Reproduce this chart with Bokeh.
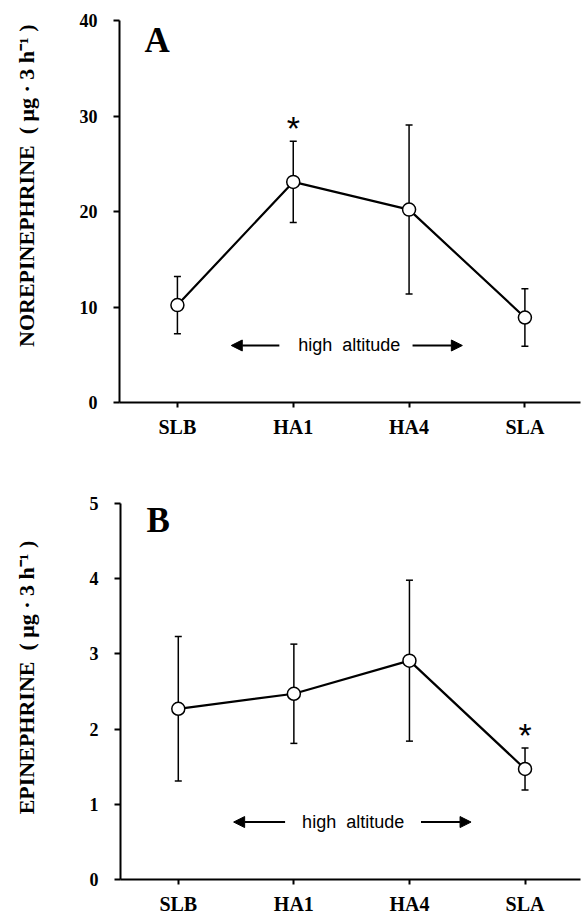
from bokeh.plotting import figure
from bokeh.models import (ColumnDataSource, Whisker, TeeHead, Label, Arrow,
                          NormalHead, Range1d, FixedTicker)
from bokeh.layouts import column, row
from bokeh.embed import file_html
from bokeh.resources import INLINE
from bokeh.core.properties import value
import math

# ---- data -------------------------------------------------------------
conditions = ["SLB", "HA1", "HA4", "SLA"]
ne_mean = [10.2, 23.1, 20.2, 8.9]        # norepinephrine, ug/3h
ne_sd = [3.0, 4.25, 8.85, 3.0]
epi_mean = [2.27, 2.47, 2.91, 1.47]      # epinephrine, ug/3h
epi_sd = [0.96, 0.66, 1.07, 0.28]
ne_ticks = [0, 10, 20, 30, 40]
epi_ticks = [0, 1, 2, 3, 4, 5]
ne_sig = ["HA1"]
epi_sig = ["SLA"]

SERIF = "Liberation Serif"
SANS = "Liberation Sans"
LABEL_W = 50


def title_strip(text, height, center_from_top):
    """Narrow figure holding the rotated y-axis title (pixel coordinates)."""
    f = figure(width=LABEL_W, height=height, output_backend="svg",
               toolbar_location=None, x_range=Range1d(0, LABEL_W),
               y_range=Range1d(0, height), x_axis_location=None,
               y_axis_location=None, min_border=0)
    f.outline_line_color = None
    f.background_fill_color = "white"
    f.border_fill_color = "white"
    f.xgrid.visible = False
    f.ygrid.visible = False
    f.add_layout(Label(x=25.5, y=height - center_from_top, text=text,
                       angle=math.pi / 2, text_font=SERIF,
                       text_font_style="bold", text_font_size="22px",
                       text_align="center", text_baseline="middle",
                       text_color="black"))
    return f


def make_panel(mean, sd, yticks, letter, sig, height, border_top,
               border_bottom, border_left, letter_y, alt_y, arrows, alt_x):
    xs = list(range(len(conditions)))
    upper = [m + s for m, s in zip(mean, sd)]
    lower = [m - s for m, s in zip(mean, sd)]
    src = ColumnDataSource(dict(x=xs, m=mean, up=upper, lo=lower))

    p = figure(width=582 - LABEL_W, height=height, output_backend="svg",
               toolbar_location=None, x_range=Range1d(-0.5, 3.48),
               y_range=Range1d(yticks[0], yticks[-1]),
               min_border_left=border_left - LABEL_W, min_border_right=2,
               min_border_top=border_top, min_border_bottom=border_bottom)
    p.outline_line_color = None
    p.background_fill_color = "white"
    p.border_fill_color = "white"
    p.xgrid.visible = False
    p.ygrid.visible = False

    for ax in (p.xaxis[0], p.yaxis[0]):
        ax.axis_line_width = 2
        ax.axis_line_color = "black"
        ax.major_tick_line_width = 2
        ax.major_tick_line_color = "black"
        ax.major_tick_in = 0
        ax.minor_tick_line_color = None
        ax.major_label_text_font = SERIF
        ax.major_label_text_font_style = "bold"
        ax.major_label_text_color = "black"

    p.xaxis.ticker = FixedTicker(ticks=xs)
    p.xaxis.major_label_overrides = {i: c for i, c in enumerate(conditions)}
    p.xaxis.major_tick_out = 5
    p.xaxis.major_label_standoff = 8
    p.xaxis.major_label_text_font_size = "20px"

    p.yaxis.ticker = FixedTicker(ticks=yticks)
    p.yaxis.major_tick_out = 6
    p.yaxis.major_label_standoff = 16
    p.yaxis.major_label_text_font_size = "18px"

    whisk = Whisker(base="x", upper="up", lower="lo", source=src,
                    line_width=1.5, line_color="black",
                    upper_head=TeeHead(size=7, line_width=1.5, line_color="black"),
                    lower_head=TeeHead(size=7, line_width=1.5, line_color="black"))
    p.add_layout(whisk)

    p.line("x", "m", source=src, line_width=2.2, line_color="black")
    p.scatter("x", "m", source=src, size=13, fill_color="white",
              line_color="black", line_width=1.5)

    # significance asterisks
    sx = [conditions.index(c) for c in sig]
    sy = [upper[i] for i in sx]
    p.text(x=sx, y=sy, text=["*"] * len(sx), text_font=value(SANS),
           text_font_size="34px", text_align="center",
           text_baseline="middle", y_offset=-13, text_color="black")

    # panel letter
    p.add_layout(Label(x=-0.174, y=letter_y, text=letter, text_font=SERIF,
                       text_font_style="bold", text_font_size="35px",
                       text_align="center", text_baseline="alphabetic",
                       text_color="black"))
    # high altitude
    p.add_layout(Label(x=alt_x, y=alt_y, text="high\u00a0 altitude",
                       text_font=SANS, text_font_size="18px",
                       text_align="center", text_baseline="middle",
                       text_color="black"))
    for tail, tip in arrows:
        p.add_layout(Arrow(end=NormalHead(size=11, fill_color="black",
                                          line_color="black", line_width=1),
                           x_start=tail, y_start=alt_y, x_end=tip, y_end=alt_y,
                           line_width=2, line_color="black"))
    return p


unit = "\u00a0\u00a0(\u00a0\u03bcg\u00a0\u00b7\u00a03\u00a0h\u207b\u00b9\u00a0)"

p1 = make_panel(ne_mean, ne_sd, ne_ticks, "A", ne_sig, 460, 20, 58, 119,
                37.9, 5.97, [(0.88, 0.465), (2.03, 2.46)], 1.483)
p2 = make_panel(epi_mean, epi_sd, epi_ticks, "B", epi_sig, 457, 43, 33, 120,
                4.77, 0.764, [(0.924, 0.479), (2.10, 2.533)], 1.513)
t1 = title_strip("NOREPINEPHRINE" + unit, 460, 199.0)
t2 = title_strip("EPINEPHRINE" + unit, 457, 211.5)

layout = column(row(t1, p1, spacing=0), row(t2, p2, spacing=0), spacing=0)
open("out.html", "w").write(file_html(layout, INLINE))
